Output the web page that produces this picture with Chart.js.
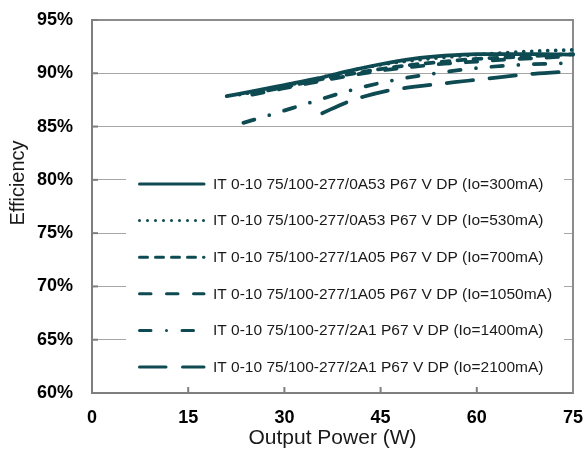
<!DOCTYPE html>
<html><head><meta charset="utf-8">
<script src="https://cdn.jsdelivr.net/npm/chart.js@4/dist/chart.umd.min.js"></script>
<style>html,body{margin:0;padding:0;background:#fff}#wrap{width:584px;height:452px}</style>
</head><body><div id="wrap"><canvas id="c" width="584" height="452"></canvas></div>
<script>
// ---- data ----
const seriesLabels = [
  'IT 0-10 75/100-277/0A53 P67 V DP (Io=300mA)',
  'IT 0-10 75/100-277/0A53 P67 V DP (Io=530mA)',
  'IT 0-10 75/100-277/1A05 P67 V DP (Io=700mA)',
  'IT 0-10 75/100-277/1A05 P67 V DP (Io=1050mA)',
  'IT 0-10 75/100-277/2A1 P67 V DP (Io=1400mA)',
  'IT 0-10 75/100-277/2A1 P67 V DP (Io=2100mA)'
];
const power300  = [21, 25, 30, 35, 40, 45, 50, 55, 60, 65, 70, 75];
const eff300    = [87.85, 88.3, 88.9, 89.5, 90.2, 90.85, 91.35, 91.65, 91.8, 91.8, 91.8, 91.75];
const power530  = [23, 30, 35, 40, 45, 50, 55, 60, 65, 70, 75];
const eff530    = [88.0, 88.8, 89.5, 90.2, 90.8, 91.2, 91.5, 91.75, 91.95, 92.1, 92.2];
const power700  = [25, 30, 35, 40, 45, 50, 55, 60, 65, 70, 75];
const eff700    = [88.1, 88.7, 89.35, 89.9, 90.4, 90.8, 91.1, 91.35, 91.5, 91.65, 91.8];
const power1050 = [25, 30, 35, 40, 45, 50, 55, 60, 65, 70, 75];
const eff1050   = [88.0, 88.6, 89.2, 89.75, 90.25, 90.6, 90.9, 91.1, 91.3, 91.45, 91.6];
const power1400 = [23.6, 27.8, 34, 40.6, 47, 53.6, 60.2, 66.9, 73.6, 75];
const eff1400   = [85.35, 86.1, 87.25, 88.45, 89.35, 90.0, 90.5, 90.8, 90.95, 91.0];
const power2100 = [35.9, 39.8, 42.3, 46, 48.6, 53.3, 58.6, 63.75, 68.9, 75];
const eff2100   = [86.25, 87.3, 87.8, 88.35, 88.6, 88.95, 89.3, 89.65, 89.95, 90.2];

const xTickValues = [0, 15, 30, 45, 60, 75];
const yTickValues = [60, 65, 70, 75, 80, 85, 90, 95];

// ---- styles ----
const LINE = '#0e4a52';
const FONT = '"Liberation Sans", Arial, sans-serif';
const dashes = [[], [0, 8], [8, 8], [11.5, 15.5], [11.5, 15.5, 0, 15.5], [26.5, 16.5]];
const pw = [power300, power530, power700, power1050, power1400, power2100];
const ef = [eff300, eff530, eff700, eff1050, eff1400, eff2100];

const datasets = seriesLabels.map((lab, i) => ({
  label: lab,
  data: pw[i].map((x, k) => ({x: x, y: ef[i][k]})),
  borderColor: LINE,
  backgroundColor: LINE,
  borderWidth: 3.75,
  borderDash: dashes[i],
  borderCapStyle: 'round',
  borderJoinStyle: 'round',
  pointRadius: 0,
  fill: false,
  cubicInterpolationMode: 'monotone',
  clip: 4
}));

const decor = {
  id: 'decor',
  beforeDatasetsDraw(chart) {
    const ctx = chart.ctx, a = chart.chartArea;
    const xs = chart.scales.x, ys = chart.scales.y;
    ctx.save();
    // legend box
    ctx.fillStyle = '#ffffff';
    ctx.fillRect(126, 165, 438, 221);
    // frame top/right
    ctx.strokeStyle = '#8c8c8c'; ctx.lineWidth = 2;
    ctx.beginPath();
    ctx.moveTo(a.left, a.top); ctx.lineTo(a.right, a.top); ctx.lineTo(a.right, a.bottom);
    ctx.stroke();
    const rowY0 = 184, rowH = 36.6;
    chart.data.datasets.forEach((ds, i) => {
      const y = rowY0 + i * rowH;
      ctx.strokeStyle = ds.borderColor; ctx.lineWidth = 3;
      ctx.lineCap = 'round';
      ctx.setLineDash(ds.borderDash);
      ctx.beginPath(); ctx.moveTo(139.5, y); ctx.lineTo(204, y); ctx.stroke();
      ctx.setLineDash([]);
      ctx.fillStyle = '#1a1a1a';
      ctx.font = '15.5px ' + FONT;
      ctx.textAlign = 'left'; ctx.textBaseline = 'middle';
      ctx.fillText(ds.label, 213, y + 0.5);
    });
    // inward ticks
    ctx.strokeStyle = '#7f7f7f'; ctx.lineWidth = 2; ctx.lineCap = 'butt';
    yTickValues.forEach(v => {
      const py = ys.getPixelForValue(v);
      ctx.beginPath(); ctx.moveTo(a.left, py); ctx.lineTo(a.left + 6, py); ctx.stroke();
    });
    xTickValues.slice(1, -1).forEach(v => {
      const px = xs.getPixelForValue(v);
      ctx.beginPath(); ctx.moveTo(px, a.bottom); ctx.lineTo(px, a.bottom - 6); ctx.stroke();
    });
    // y title
    ctx.translate(18, 183); ctx.rotate(-Math.PI / 2);
    ctx.fillStyle = '#1a1a1a'; ctx.font = '20px ' + FONT;
    ctx.textAlign = 'center'; ctx.textBaseline = 'middle';
    ctx.fillText('Efficiency', 0, 0);
    ctx.restore();
  }
};

new Chart(document.getElementById('c'), {
  type: 'line',
  data: { datasets },
  plugins: [decor],
  options: {
    responsive: false,
    animation: false,
    layout: { padding: { left: 0, top: 20, right: 11, bottom: 0 } },
    plugins: { legend: { display: false }, tooltip: { enabled: false } },
    scales: {
      x: {
        type: 'linear', min: 0, max: 75,
        afterFit(s) { s.height = 59; s.paddingLeft = 0; s.paddingRight = 0; },
        afterBuildTicks(s) { s.ticks = xTickValues.map(v => ({value: v})); },
        grid: { display: false, drawTicks: false },
        border: { display: true, color: '#7f7f7f', width: 2 },
        ticks: { color: '#000', padding: 14, maxRotation: 0, font: { family: FONT, size: 18, weight: 'bold' } },
        title: { display: true, text: 'Output Power (W)', color: '#1a1a1a', padding: { top: 0, bottom: 1 }, font: { family: FONT, size: 21 } }
      },
      y: {
        type: 'linear', min: 60, max: 95,
        afterFit(s) { s.width = 92; s.paddingTop = 0; s.paddingBottom = 0; },
        afterBuildTicks(s) { s.ticks = yTickValues.map(v => ({value: v})); },
        grid: { color: '#a6a6a6', lineWidth: 1, drawTicks: false },
        border: { display: true, color: '#7f7f7f', width: 2 },
        ticks: { color: '#000', padding: 19, callback: v => v + '%', font: { family: FONT, size: 18, weight: 'bold' } }
      }
    }
  }
});
</script></body></html>
